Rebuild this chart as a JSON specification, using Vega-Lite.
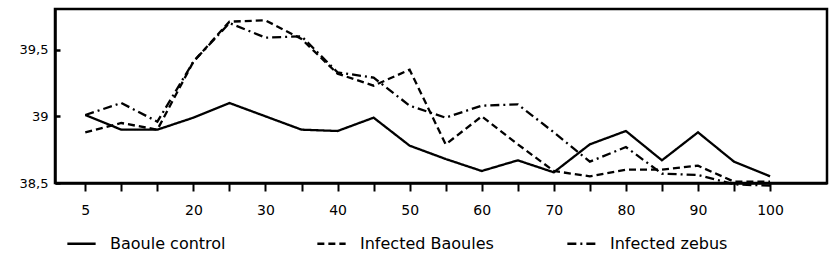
{
  "$schema": "https://vega.github.io/schema/vega-lite/v6.json",
  "width": 772,
  "height": 174,
  "autosize": "none",
  "padding": {"left": 55, "top": 9, "right": 7, "bottom": 74},
  "config": {
    "view": {"stroke": "black", "strokeWidth": 2.5},
    "font": "DejaVu Sans",
    "axis": {"domainColor": "black", "domainWidth": 2.5, "tickColor": "black", "labelColor": "black", "grid": false, "title": null}
  },
  "data": {
    "values": [
      {"day": 5, "temp": 39.01, "group": "Baoule control"},
      {"day": 10, "temp": 38.9, "group": "Baoule control"},
      {"day": 15, "temp": 38.9, "group": "Baoule control"},
      {"day": 20, "temp": 38.99, "group": "Baoule control"},
      {"day": 25, "temp": 39.1, "group": "Baoule control"},
      {"day": 30, "temp": 39.0, "group": "Baoule control"},
      {"day": 35, "temp": 38.9, "group": "Baoule control"},
      {"day": 40, "temp": 38.89, "group": "Baoule control"},
      {"day": 45, "temp": 38.99, "group": "Baoule control"},
      {"day": 50, "temp": 38.78, "group": "Baoule control"},
      {"day": 55, "temp": 38.68, "group": "Baoule control"},
      {"day": 60, "temp": 38.59, "group": "Baoule control"},
      {"day": 65, "temp": 38.67, "group": "Baoule control"},
      {"day": 70, "temp": 38.58, "group": "Baoule control"},
      {"day": 75, "temp": 38.79, "group": "Baoule control"},
      {"day": 80, "temp": 38.89, "group": "Baoule control"},
      {"day": 85, "temp": 38.67, "group": "Baoule control"},
      {"day": 90, "temp": 38.88, "group": "Baoule control"},
      {"day": 95, "temp": 38.66, "group": "Baoule control"},
      {"day": 100, "temp": 38.55, "group": "Baoule control"},
      {"day": 5, "temp": 38.88, "group": "Infected Baoules"},
      {"day": 10, "temp": 38.95, "group": "Infected Baoules"},
      {"day": 15, "temp": 38.9, "group": "Infected Baoules"},
      {"day": 20, "temp": 39.41, "group": "Infected Baoules"},
      {"day": 25, "temp": 39.71, "group": "Infected Baoules"},
      {"day": 30, "temp": 39.72, "group": "Infected Baoules"},
      {"day": 35, "temp": 39.58, "group": "Infected Baoules"},
      {"day": 40, "temp": 39.32, "group": "Infected Baoules"},
      {"day": 45, "temp": 39.23, "group": "Infected Baoules"},
      {"day": 50, "temp": 39.35, "group": "Infected Baoules"},
      {"day": 55, "temp": 38.79, "group": "Infected Baoules"},
      {"day": 60, "temp": 39.0, "group": "Infected Baoules"},
      {"day": 65, "temp": 38.79, "group": "Infected Baoules"},
      {"day": 70, "temp": 38.59, "group": "Infected Baoules"},
      {"day": 75, "temp": 38.55, "group": "Infected Baoules"},
      {"day": 80, "temp": 38.6, "group": "Infected Baoules"},
      {"day": 85, "temp": 38.6, "group": "Infected Baoules"},
      {"day": 90, "temp": 38.63, "group": "Infected Baoules"},
      {"day": 95, "temp": 38.51, "group": "Infected Baoules"},
      {"day": 100, "temp": 38.51, "group": "Infected Baoules"},
      {"day": 5, "temp": 39.01, "group": "Infected zebus"},
      {"day": 10, "temp": 39.1, "group": "Infected zebus"},
      {"day": 15, "temp": 38.96, "group": "Infected zebus"},
      {"day": 20, "temp": 39.41, "group": "Infected zebus"},
      {"day": 25, "temp": 39.7, "group": "Infected zebus"},
      {"day": 30, "temp": 39.59, "group": "Infected zebus"},
      {"day": 35, "temp": 39.6, "group": "Infected zebus"},
      {"day": 40, "temp": 39.33, "group": "Infected zebus"},
      {"day": 45, "temp": 39.29, "group": "Infected zebus"},
      {"day": 50, "temp": 39.08, "group": "Infected zebus"},
      {"day": 55, "temp": 38.99, "group": "Infected zebus"},
      {"day": 60, "temp": 39.08, "group": "Infected zebus"},
      {"day": 65, "temp": 39.09, "group": "Infected zebus"},
      {"day": 70, "temp": 38.88, "group": "Infected zebus"},
      {"day": 75, "temp": 38.66, "group": "Infected zebus"},
      {"day": 80, "temp": 38.77, "group": "Infected zebus"},
      {"day": 85, "temp": 38.57, "group": "Infected zebus"},
      {"day": 90, "temp": 38.56, "group": "Infected zebus"},
      {"day": 95, "temp": 38.49, "group": "Infected zebus"},
      {"day": 100, "temp": 38.48, "group": "Infected zebus"}
    ]
  },
  "mark": {"type": "line", "color": "black", "strokeWidth": 2.3},
  "encoding": {
    "x": {
      "field": "day",
      "type": "quantitative",
      "scale": {"domain": [0.8, 107.9], "nice": false, "zero": false},
      "axis": {
        "values": [5, 10, 15, 20, 25, 30, 35, 40, 45, 50, 55, 60, 65, 70, 75, 80, 85, 90, 95, 100],
        "labelExpr": "datum.value == 5 || (datum.value % 10 == 0 && datum.value >= 20) ? datum.label : ''",
        "tickSize": 8,
        "tickWidth": 2,
        "labelFontSize": 14,
        "labelPadding": 12,
        "labelFlush": false
      }
    },
    "y": {
      "field": "temp",
      "type": "quantitative",
      "scale": {"domain": [38.5, 39.805], "nice": false, "zero": false},
      "axis": {
        "values": [38.5, 39, 39.5],
        "labelExpr": "replace(format(datum.value, '~g'), '.', ',')",
        "tickSize": -5,
        "tickWidth": 2.5,
        "labelFontSize": 13,
        "labelPadding": 12,
        "labelFlush": false
      }
    },
    "strokeDash": {
      "field": "group",
      "type": "nominal",
      "scale": {
        "domain": ["Baoule control", "Infected Baoules", "Infected zebus"],
        "range": [[1, 0], [7, 4], [9, 4, 2, 4]]
      },
      "legend": {
        "title": null,
        "orient": "none",
        "legendX": 11,
        "legendY": 219,
        "direction": "horizontal",
        "columns": 3,
        "gridAlign": "all",
        "columnPadding": 68,
        "symbolType": "stroke",
        "symbolSize": 800,
        "symbolStrokeWidth": 2.5,
        "symbolStrokeColor": "black",
        "labelFontSize": 16,
        "labelColor": "black",
        "labelOffset": 13,
        "labelLimit": 300
      }
    }
  }
}
